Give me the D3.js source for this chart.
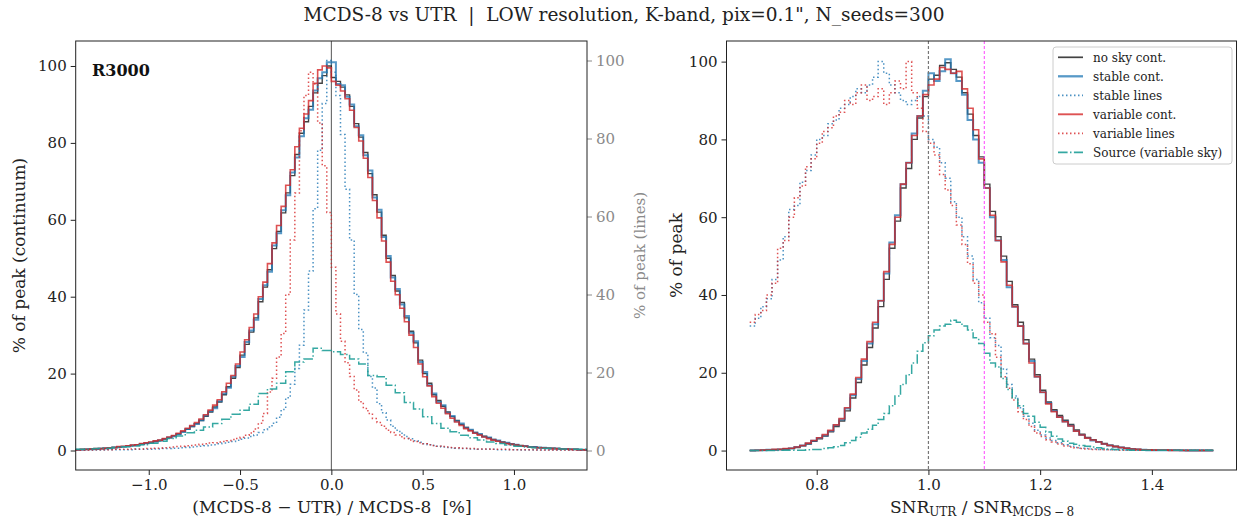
<!DOCTYPE html>
<html>
<head>
<meta charset="utf-8">
<script src="https://cdn.jsdelivr.net/npm/d3@7"></script>
<style>
  body { margin: 0; background: #fff; }
  svg { display: block; font-family: "DejaVu Serif", serif; }
  svg text { white-space: pre; }
</style>
</head>
<body>
<div id="chart"></div>
<script>
// ---- left panel: (MCDS-8 - UTR)/MCDS-8 [%], bins of 0.025 from -1.4 ----
const leftBinStart = -1.4, leftBinWidth = 0.025;
const leftNoSky = [0.2,0.3,0.3,0.4,0.4,0.5,0.6,0.7,0.8,0.9, 1.0,1.2,1.3,1.5,1.7,1.9,2.1,2.4,2.6,3.0,
  3.3,3.8,4.3,4.9,5.5,6.2,7.0,7.8,8.9,10.0, 11.3,12.6,14.5,16.6,18.8,21.6,24.8,27.6,30.8,34.5,
  38.7,42.5,47.0,52.5,57.0,61.8,67.0,71.5,77.0,82.5, 85.5,89.5,93.0,95.5,97.5,100.0,97.0,96.0,94.5,92.5,
  89.5,85.0,81.5,77.5,72.0,66.5,62.0,56.0,50.0,45.5, 41.5,38.5,34.5,31.0,28.0,23.5,20.0,17.5,14.5,13.0,
  11.5,10.0,8.8,7.8,6.8,6.0,5.3,4.7,4.2,3.7, 3.3,2.9,2.5,2.2,1.9,1.7,1.5,1.3,1.1,1.0,
  0.9,0.8,0.7,0.6,0.6,0.5,0.5,0.4,0.3,0.3, 0.2,0.2];
const leftStableCont = [0.2,0.2,0.3,0.3,0.4,0.5,0.5,0.6,0.8,0.9, 1.0,1.1,1.3,1.4,1.6,1.9,2.0,2.3,2.6,2.9,
  3.4,3.7,4.2,4.8,5.6,6.3,6.9,7.9,9.1,10.2, 11.0,12.8,14.8,16.3,19.2,22.0,24.3,28.2,31.2,34.0,
  39.4,43.0,46.5,53.3,56.5,62.5,66.4,72.3,76.2,81.7, 86.4,88.6,93.6,96.8,98.4,101.0,101.0,95.3,95.0,92.0,
  90.0,84.3,82.0,76.8,72.8,65.8,62.6,55.5,50.6,45.0, 42.0,38.0,35.0,30.6,28.4,23.0,20.4,17.0,14.8,12.6,
  11.8,9.8,9.0,7.6,7.0,5.9,5.4,4.6,4.3,3.6, 3.4,2.8,2.6,2.1,2.0,1.6,1.5,1.2,1.2,0.9,
  0.9,0.7,0.7,0.6,0.5,0.5,0.4,0.4,0.3,0.3, 0.2,0.2];
const leftVariableCont = [0.2,0.3,0.3,0.4,0.5,0.5,0.6,0.7,0.8,1.0, 1.1,1.2,1.4,1.5,1.8,2.0,2.2,2.5,2.7,3.1,
  3.5,3.9,4.5,5.1,5.8,6.5,7.3,8.2,9.3,10.5, 11.8,13.2,15.3,17.5,19.5,22.5,25.6,28.8,32.0,35.5,
  40.0,43.8,48.6,54.0,58.5,63.5,69.0,73.0,79.0,83.8, 87.5,91.0,95.5,99.0,100.0,99.5,96.0,95.0,93.5,91.5,
  88.5,84.0,80.5,76.0,71.0,65.0,60.5,54.5,49.0,44.0, 40.5,37.0,33.5,30.0,26.8,22.5,19.2,16.8,14.0,12.3,
  11.0,9.6,8.4,7.4,6.5,5.7,5.1,4.5,4.0,3.5, 3.1,2.7,2.4,2.1,1.8,1.6,1.4,1.2,1.1,0.9,
  0.8,0.7,0.7,0.6,0.5,0.5,0.4,0.4,0.3,0.3, 0.2,0.2];
// lines, read against the right-hand axis
const leftStableLines = [0.1,0.1,0.1,0.1,0.1,0.1,0.1,0.2,0.2,0.2, 0.2,0.2,0.2,0.3,0.3,0.3,0.3,0.4,0.4,0.5,
  0.5,0.6,0.6,0.7,0.8,0.9,1.0,1.1,1.2,1.4, 1.5,1.7,1.9,2.1,2.3,2.6,2.9,3.2,3.6,4.0,
  4.6,5.3,6.0,7.0,8.5,10.5,13.5,17.0,21.0,27.0, 36.0,46.0,62.0,77.0,89.0,100.0,97.0,91.0,81.0,67.0,
  54.0,40.0,31.0,25.0,19.0,16.0,12.0,9.7,7.8,6.2, 5.2,4.4,3.6,3.0,2.5,2.1,1.7,1.5,1.3,1.1,
  0.9,0.8,0.7,0.6,0.5,0.5,0.4,0.4,0.3,0.3, 0.3,0.3,0.2,0.2,0.2,0.2,0.2,0.1,0.1,0.1,
  0.1,0.1,0.1,0.1,0.1,0.1,0.1,0.1,0.1,0.1, 0.1,0.1];
const leftVariableLines = [0.1,0.1,0.1,0.1,0.2,0.2,0.2,0.2,0.3,0.3, 0.3,0.3,0.4,0.4,0.4,0.5,0.5,0.6,0.6,0.7,
  0.8,0.9,1.0,1.1,1.2,1.3,1.4,1.6,1.7,1.9, 2.0,2.2,2.3,2.5,2.8,3.1,3.4,3.9,4.5,5.5,
  7.0,9.5,15.0,18.5,24.0,30.0,40.0,54.0,66.0,82.0, 91.0,97.0,94.0,84.0,73.0,61.0,47.0,35.0,28.0,22.5,
  19.0,15.5,12.5,10.8,9.5,8.2,7.2,6.2,5.2,4.6, 4.0,3.5,3.1,2.7,2.3,2.0,1.7,1.5,1.3,1.1,
  1.0,0.9,0.8,0.7,0.6,0.6,0.5,0.5,0.4,0.4, 0.4,0.3,0.3,0.3,0.3,0.2,0.2,0.2,0.2,0.2,
  0.2,0.1,0.1,0.1,0.1,0.1,0.1,0.1,0.1,0.1, 0.1,0.1];
// source, bins of 0.05
const leftSrcBinWidth = 0.05;
const leftSource = [0.3,0.4,0.5,0.6,0.8,1.0,1.2,1.5,1.9,2.4, 3.1,3.8,4.6,5.3,6.1,7.0,8.1,9.4,10.5,12.0,
  14.8,16.0,17.5,20.5,23.0,23.8,26.6,26.0,25.7,25.0, 23.8,22.5,19.5,19.2,17.0,15.0,12.5,10.8,8.8,7.0,
  5.8,4.9,4.0,3.3,2.7,2.2,1.8,1.4,1.1,0.9, 0.7,0.6,0.5,0.4,0.3,0.3];

// ---- right panel: SNR_UTR / SNR_MCDS-8, bins of 0.01 from 0.68 ----
const rightBinStart = 0.68, rightBinWidth = 0.01;
const rightNoSky = [0.0,0.05,0.1,0.1,0.2,0.3,0.4,0.5,0.8,1.2, 1.7,2.4,3.0,3.7,4.8,6.2,7.6,10.2,13.5,17.5,
  22.0,26.5,31.5,37.0,44.0,52.0,59.0,67.5,72.5,80.0, 85.5,91.0,95.5,96.5,99.0,99.7,98.0,96.0,92.0,86.5,
  81.0,75.5,68.5,61.5,55.0,50.0,43.5,37.5,33.0,28.5, 23.5,19.5,15.5,12.5,10.5,9.0,7.8,6.7,5.3,4.2,
  3.4,2.8,2.3,1.8,1.4,1.1,0.8,0.6,0.4,0.3, 0.2,0.2,0.1,0.1,0.1,0.05,0.05,0.05,0.0,0.0, 0.0,0.0,0.0];
const rightStableCont = [0.0,0.05,0.1,0.2,0.2,0.3,0.4,0.6,0.9,1.3, 1.8,2.5,3.2,3.9,5.0,6.5,8.0,10.8,14.2,18.4,
  23.0,27.5,32.5,38.5,45.5,53.5,60.5,68.5,74.0,81.5, 86.0,92.5,97.0,95.0,97.5,100.6,97.0,95.0,91.5,85.0,
  80.0,74.0,67.5,60.0,54.0,49.0,42.0,37.0,32.0,27.5, 23.0,19.0,15.0,12.2,10.2,8.6,7.5,6.4,5.0,4.0,
  3.2,2.6,2.2,1.7,1.3,1.0,0.8,0.5,0.4,0.3, 0.2,0.1,0.1,0.1,0.05,0.05,0.05,0.0,0.0,0.0, 0.0,0.0,0.0];
const rightVariableCont = [0.0,0.05,0.1,0.2,0.3,0.3,0.5,0.6,0.9,1.3, 1.9,2.6,3.3,4.1,5.2,6.6,8.2,11.0,14.5,18.8,
  23.5,28.0,33.0,38.5,46.0,53.0,60.0,68.5,74.0,81.0, 86.0,91.5,94.0,95.5,98.5,98.0,97.0,97.5,93.0,88.0,
  82.5,75.0,67.5,60.5,54.0,48.5,42.5,37.0,32.0,27.5, 22.5,19.0,15.0,12.0,10.0,8.6,7.4,6.3,5.0,4.0,
  3.2,2.7,2.2,1.7,1.3,1.0,0.8,0.6,0.4,0.3, 0.2,0.2,0.1,0.1,0.1,0.05,0.05,0.0,0.0,0.0, 0.0,0.0,0.0];
const rightStableLines = [32,34,37,39,44,49,55,62,63,69, 72,76,80,81,84,85,88,89,91,93,
  92,94,96,100,97,94,92,90,89,90, 91,86,80,78,74,70,64,60,55,50,
  44,38,34,29,27,21,17,14,11,8.8, 7.0,5.2,4.0,3.2,2.6,2.0,1.5,1.1,0.8,0.6,
  0.5,0.4,0.3,0.3,0.2,0.2,0.2,0.1,0.1,0.1, 0.1,0.1,0.1,0.1,0.1,0.1,0.1,0.1,0.1,0.1, 0.1,0.1,0.1];
const rightVariableLines = [33,35,36,40,43,52,54,60,65,68, 73,75,79,82,83,86,87,90,89,92,
  94,90,91,93,89,92,95,93,100,92, 88,82,79,76,71,67,63,58,53,48,
  43,40,33,30,24,19,16,13,10,8.0, 6.2,4.5,3.6,2.8,2.2,1.7,1.2,0.9,0.7,0.5,
  0.4,0.3,0.3,0.2,0.2,0.2,0.1,0.1,0.1,0.1, 0.1,0.1,0.1,0.1,0.1,0.1,0.1,0.1,0.1,0.1, 0.1,0.1,0.1];
const rightSource = [0,0,0,0,0,0.05,0.05,0.1,0.1,0.1, 0.2,0.3,0.3,0.5,0.7,1.0,1.3,2.0,2.6,3.4,
  4.5,5.5,6.5,8.0,9.5,11.5,14.0,17.0,19.5,22.5, 25.5,27.7,29.5,31.0,32.0,32.5,33.5,33.0,32.0,31.0,
  29.0,27.5,25.0,22.5,21.5,18.5,15.7,13.5,11.5,9.5, 8.8,7.3,6.0,4.8,3.7,3.0,2.4,1.9,1.6,1.3,
  1.1,0.9,0.7,0.5,0.4,0.3,0.2,0.2,0.1,0.1, 0.1,0.1,0.1,0.1,0.1,0.1,0.1,0.1,0.1,0.1, 0.1,0.1,0.1];

const leftTicks = [-1.0, -0.5, 0.0, 0.5, 1.0];
const rightTicks = [0.8, 1.0, 1.2, 1.4];
const yTicks = [0, 20, 40, 60, 80, 100];

const series = [
  { name: "no sky cont.", color: "#222", width: 1.4, opacity: 0.85, dash: null },
  { name: "stable cont.", color: "#1f77b4", width: 2, opacity: 0.75, dash: null },
  { name: "stable lines", color: "#1f77b4", width: 1.5, opacity: 0.8, dash: "1.5,2.5" },
  { name: "variable cont.", color: "#d62728", width: 1.6, opacity: 0.8, dash: null },
  { name: "variable lines", color: "#d62728", width: 1.5, opacity: 0.8, dash: "1.5,2.5" },
  { name: "Source (variable sky)", color: "#1f9e98", width: 1.5, opacity: 0.9, dash: "9.6,2.4,1.5,2.4" },
];

const W = 1238, H = 523;
const svg = d3.select("#chart").append("svg").attr("width", W).attr("height", H);

const L = { x0: 75.7, x1: 587, y0: 41, y1: 470 };
const R = { x0: 726.5, x1: 1236.5, y0: 41, y1: 470 };

const xL = d3.scaleLinear().domain([-1.4, 1.4]).range([L.x0, L.x1]);
const yL = d3.scaleLinear().domain([-5.07, 106.5]).range([L.y1, L.y0]);
const yL2 = d3.scaleLinear().domain([-5, 105]).range([L.y1, L.y0]);
const xR = d3.scaleLinear().domain([0.6385, 1.5515]).range([R.x0, R.x1]);
const yR = d3.scaleLinear().domain([-5, 105.3]).range([R.y1, R.y0]);

// step outline of a histogram
function stairs(g, vals, start, width, x, y, s) {
  const pts = vals.map((v, i) => [start + i * width, v]);
  pts.push([start + vals.length * width, vals[vals.length - 1]]);
  const line = d3.line().x(d => x(d[0])).y(d => y(d[1])).curve(d3.curveStepAfter);
  g.append("path").attr("d", line(pts))
    .attr("fill", "none").attr("stroke", s.color).attr("stroke-width", s.width)
    .attr("stroke-opacity", s.opacity).attr("stroke-dasharray", s.dash)
    .attr("stroke-linejoin", "miter");
}

function styleAxis(g, size, color) {
  g.selectAll("text").attr("font-family", "DejaVu Serif, serif").attr("font-size", size).attr("fill", color);
  g.selectAll("line").attr("stroke", color);
  g.select(".domain").remove();
}

// ---------- left panel ----------
const gl = svg.append("g");
gl.append("line").attr("x1", xL(0)).attr("x2", xL(0)).attr("y1", L.y0).attr("y2", L.y1)
  .attr("stroke", "#555").attr("stroke-width", 1);

stairs(gl, leftNoSky, leftBinStart, leftBinWidth, xL, yL, series[0]);
stairs(gl, leftStableCont, leftBinStart, leftBinWidth, xL, yL, series[1]);
stairs(gl, leftStableLines, leftBinStart, leftBinWidth, xL, yL2, series[2]);
stairs(gl, leftVariableCont, leftBinStart, leftBinWidth, xL, yL, series[3]);
stairs(gl, leftVariableLines, leftBinStart, leftBinWidth, xL, yL2, series[4]);
stairs(gl, leftSource, leftBinStart, leftSrcBinWidth, xL, yL, series[5]);

gl.append("g").attr("transform", `translate(0,${L.y1})`)
  .call(d3.axisBottom(xL).tickValues(leftTicks).tickFormat(d3.format(".1f")).tickSize(5).tickPadding(4))
  .call(g => styleAxis(g, 15, "#222"));
gl.append("g").attr("transform", `translate(${L.x0},0)`)
  .call(d3.axisLeft(yL).tickValues(yTicks).tickSize(5).tickPadding(4))
  .call(g => styleAxis(g, 15, "#222"));
gl.append("g").attr("transform", `translate(${L.x1},0)`)
  .call(d3.axisRight(yL2).tickValues(yTicks).tickSize(5).tickPadding(4))
  .call(g => styleAxis(g, 15, "#8a8a8a"));
gl.append("rect").attr("x", L.x0).attr("y", L.y0).attr("width", L.x1 - L.x0).attr("height", L.y1 - L.y0)
  .attr("fill", "none").attr("stroke", "#222").attr("stroke-width", 1);

gl.append("text").attr("x", 92).attr("y", 76).attr("font-size", 16).attr("font-weight", "bold")
  .attr("fill", "#111").text("R3000");
gl.append("text").attr("x", 332).attr("y", 513).attr("text-anchor", "middle")
  .attr("font-size", 17).attr("fill", "#222").text("(MCDS-8 \u2212 UTR) / MCDS-8  [%]");
gl.append("text").attr("transform", `translate(25,${(L.y0 + L.y1) / 2}) rotate(-90)`)
  .attr("text-anchor", "middle").attr("font-size", 17).attr("fill", "#222").text("% of peak (continuum)");
gl.append("text").attr("transform", `translate(645,${(L.y0 + L.y1) / 2}) rotate(-90)`)
  .attr("text-anchor", "middle").attr("font-size", 15).attr("fill", "#8a8a8a").text("% of peak (lines)");

// ---------- right panel ----------
const gr = svg.append("g");
stairs(gr, rightNoSky, rightBinStart, rightBinWidth, xR, yR, series[0]);
stairs(gr, rightStableCont, rightBinStart, rightBinWidth, xR, yR, series[1]);
stairs(gr, rightStableLines, rightBinStart, rightBinWidth, xR, yR, series[2]);
stairs(gr, rightVariableCont, rightBinStart, rightBinWidth, xR, yR, series[3]);
stairs(gr, rightVariableLines, rightBinStart, rightBinWidth, xR, yR, series[4]);
stairs(gr, rightSource, rightBinStart, rightBinWidth, xR, yR, series[5]);

gr.append("line").attr("x1", xR(1.0)).attr("x2", xR(1.0)).attr("y1", R.y0).attr("y2", R.y1)
  .attr("stroke", "#777").attr("stroke-width", 1.2).attr("stroke-dasharray", "3,2");
gr.append("line").attr("x1", xR(1.1)).attr("x2", xR(1.1)).attr("y1", R.y0).attr("y2", R.y1)
  .attr("stroke", "#ff44ff").attr("stroke-width", 1).attr("stroke-dasharray", "3,2");

gr.append("g").attr("transform", `translate(0,${R.y1})`)
  .call(d3.axisBottom(xR).tickValues(rightTicks).tickFormat(d3.format(".1f")).tickSize(5).tickPadding(4))
  .call(g => styleAxis(g, 15, "#222"));
gr.append("g").attr("transform", `translate(${R.x0},0)`)
  .call(d3.axisLeft(yR).tickValues(yTicks).tickSize(5).tickPadding(4))
  .call(g => styleAxis(g, 15, "#222"));
gr.append("rect").attr("x", R.x0).attr("y", R.y0).attr("width", R.x1 - R.x0).attr("height", R.y1 - R.y0)
  .attr("fill", "none").attr("stroke", "#222").attr("stroke-width", 1);

gr.append("text").attr("transform", `translate(682,${(R.y0 + R.y1) / 2}) rotate(-90)`)
  .attr("text-anchor", "middle").attr("font-size", 17).attr("fill", "#222").text("% of peak");

const xlab = gr.append("text").attr("x", 982).attr("y", 513).attr("text-anchor", "middle")
  .attr("font-size", 17).attr("fill", "#222");
xlab.append("tspan").text("SNR");
xlab.append("tspan").attr("font-size", 12).attr("dy", 3).text("UTR");
xlab.append("tspan").attr("dy", -3).text(" / SNR");
xlab.append("tspan").attr("font-size", 12).attr("dy", 3).text("MCDS\u2009\u2212\u20098");

// legend
const lg = gr.append("g").attr("transform", "translate(1053,47)");
lg.append("rect").attr("width", 179).attr("height", 117).attr("rx", 3)
  .attr("fill", "#fff").attr("fill-opacity", 0.8).attr("stroke", "#ccc").attr("stroke-width", 1);
series.forEach((s, i) => {
  const cy = 10.3 + i * 19;
  lg.append("line").attr("x1", 5).attr("x2", 30).attr("y1", cy).attr("y2", cy)
    .attr("stroke", s.color).attr("stroke-width", s.width + 0.3).attr("stroke-opacity", s.opacity)
    .attr("stroke-dasharray", s.dash);
  lg.append("text").attr("x", 40).attr("y", cy + 4.2).attr("font-size", 12).attr("fill", "#222").text(s.name);
});

// title
svg.append("text").attr("x", 624).attr("y", 21).attr("text-anchor", "middle").attr("font-size", 18.5)
  .attr("fill", "#222").text("MCDS-8 vs UTR  |  LOW resolution, K-band, pix=0.1\", N_seeds=300");
</script>
</body>
</html>
